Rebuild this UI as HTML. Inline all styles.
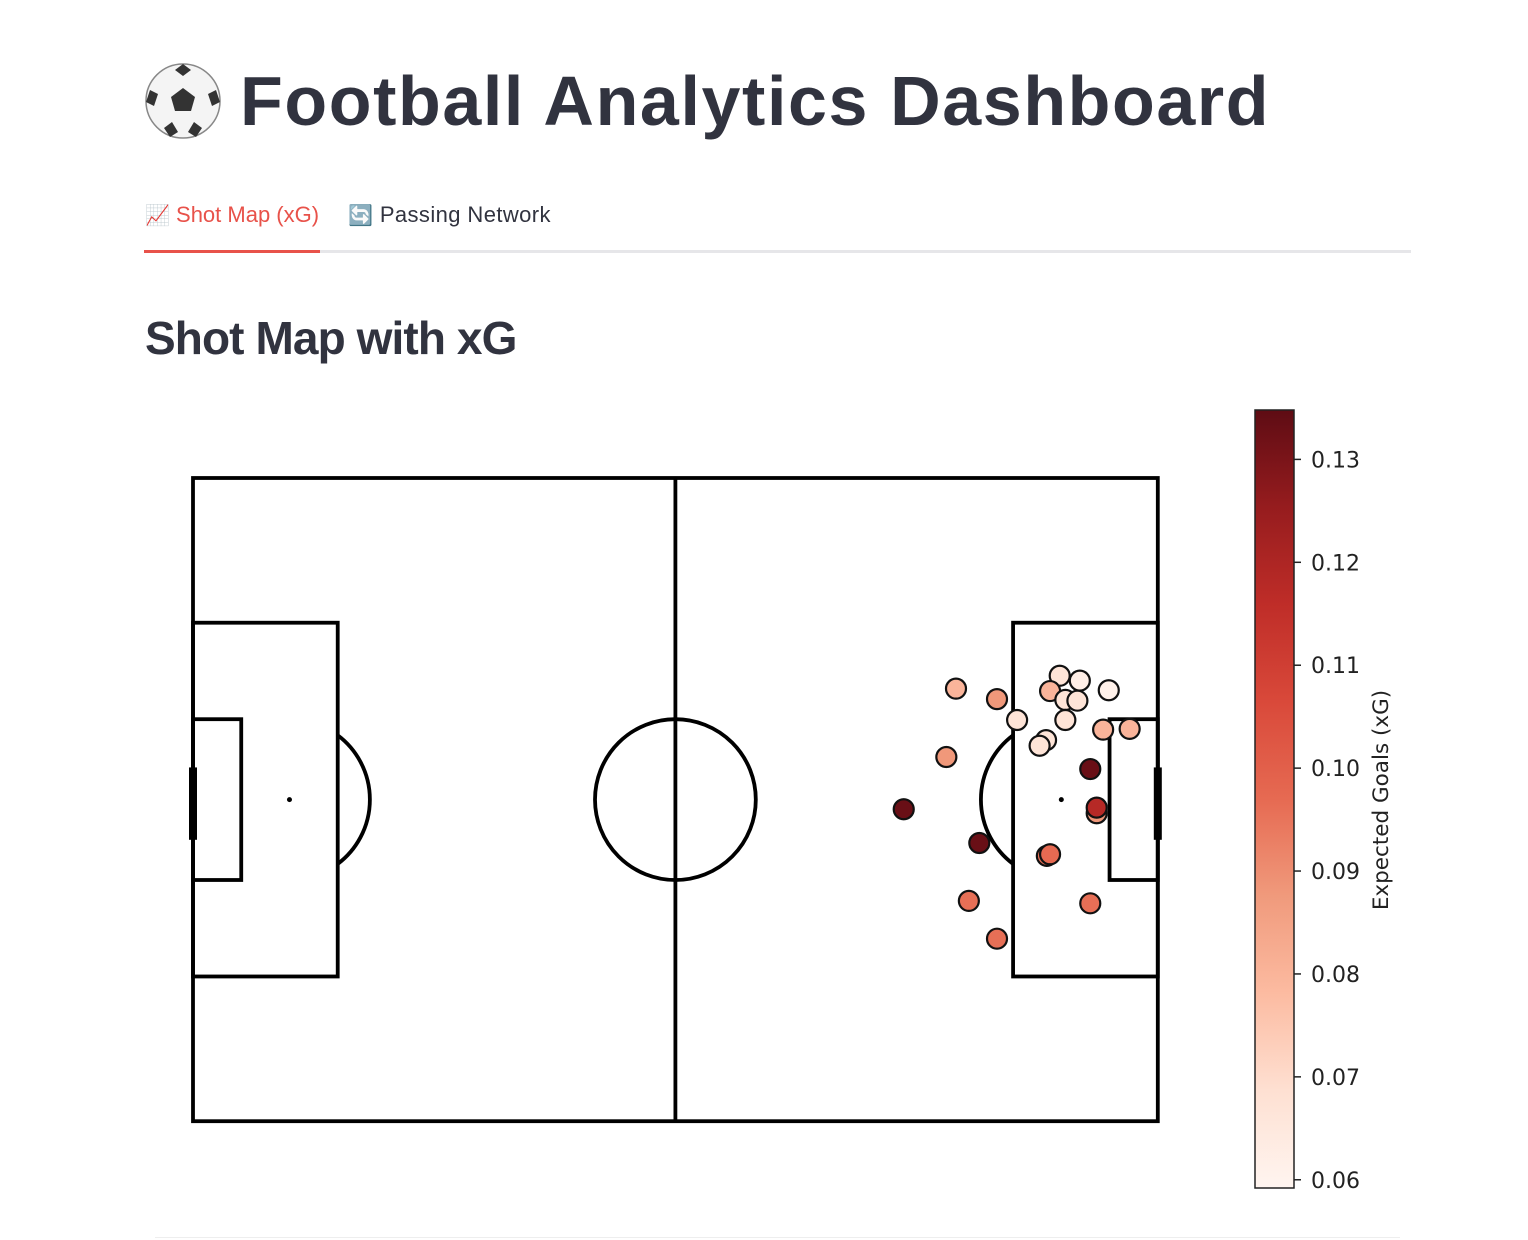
<!DOCTYPE html>
<html><head><meta charset="utf-8">
<style>
body{margin:0;background:#fff;width:1528px;height:1240px;overflow:hidden;font-family:"Liberation Sans",sans-serif;color:#31333f;position:relative}
.abs{position:absolute}
</style></head><body>
<svg class="abs" style="left:144px;top:62px" width="78" height="78" viewBox="0 0 78 78">
<circle cx="39" cy="39" r="37" fill="#f4f4f4" stroke="#888" stroke-width="1.5"/>
<polygon points="39,26 51,35 47,49 31,49 27,35" fill="#333"/>
<path d="M39 2 L47 8 L39 14 L31 8Z M72 28 L76 40 L68 44 L64 32Z M6 28 L14 32 L10 44 L2 40Z M20 66 L28 60 L34 70 L26 75Z M58 66 L50 60 L44 70 L52 75Z" fill="#333"/>
</svg>
<div class="abs" style="left:240px;top:61px;font-size:70px;font-weight:bold;letter-spacing:1.6px;line-height:80px;white-space:nowrap">Football Analytics Dashboard</div>
<div class="abs" style="left:145px;top:200px;font-size:22px;color:#e8524a;line-height:30px"><span style="font-size:20px">📈</span> Shot Map (xG)</div>
<div class="abs" style="left:348px;top:200px;font-size:22px;line-height:30px;letter-spacing:0.4px"><span style="font-size:20px">🔄</span> Passing Network</div>
<div class="abs" style="left:144px;top:250px;width:1267px;height:3px;background:#e6e6e9"></div>
<div class="abs" style="left:144px;top:250px;width:176px;height:3px;background:#e8524a"></div>
<div class="abs" style="left:145px;top:310px;font-size:46px;font-weight:bold;line-height:56px;letter-spacing:-0.9px">Shot Map with xG</div>
<div class="abs" style="left:155px;top:1237px;width:1245px;height:1px;background:#eee"></div>
<svg id="chart" class="abs" style="left:0;top:0" width="1528" height="1240">
<defs><linearGradient id="cg" x1="0" y1="1" x2="0" y2="0">
<stop offset="0" stop-color="#fff5f0"/><stop offset="0.125" stop-color="#fee0d2"/><stop offset="0.25" stop-color="#fcbba1"/><stop offset="0.375" stop-color="#f09a7c"/><stop offset="0.5" stop-color="#e66a52"/><stop offset="0.625" stop-color="#d9493a"/><stop offset="0.75" stop-color="#bf2d28"/><stop offset="0.875" stop-color="#961c1e"/><stop offset="1" stop-color="#5e0c14"/></linearGradient></defs>
</svg>
<script>
const shotX=[94.9,100.0,102.5,93.7,88.4,97.8,96.5,100.0,107.8,110.3,106.6,108.5,110.0,113.9,108.5,106.1,105.3,113.2,116.5,111.6,112.4,112.4,106.2,106.6,111.6];
const shotY=[26.2,27.5,30.1,34.7,41.2,45.4,52.6,57.3,24.6,25.2,26.5,27.6,27.7,26.4,30.1,32.6,33.3,31.3,31.2,36.2,41.7,41.0,47.0,46.8,52.9];
const shotXG=[0.080,0.088,0.067,0.088,0.133,0.133,0.096,0.096,0.067,0.062,0.080,0.067,0.067,0.061,0.067,0.067,0.067,0.080,0.080,0.133,0.088,0.118,0.096,0.097,0.096];
const cbTicks=[0.06,0.07,0.08,0.09,0.10,0.11,0.12,0.13];
const vmin=0.0592,vmax=0.1348;
const svg=document.getElementById('chart');
const NS='http://www.w3.org/2000/svg';
const ox=193,oy=478,k=8.04;
const sx=v=>ox+v*k, sy=v=>oy+v*k;
function mk(t,a,p){const e=document.createElementNS(NS,t);for(const q in a)e.setAttribute(q,a[q]);(p||svg).appendChild(e);return e;}
const L={stroke:'#000','stroke-width':3.8,fill:'none'};
const g=mk('g',{});


function rect(x1,y1,x2,y2){mk('rect',Object.assign({x:sx(x1),y:sy(y1),width:(x2-x1)*k,height:(y2-y1)*k},L),g);}
rect(0,0,120,80);rect(0,18,18,62);rect(102,18,120,62);rect(0,30,6,50);rect(114,30,120,50);
mk('line',Object.assign({x1:sx(60),y1:sy(0),x2:sx(60),y2:sy(80)},L),g);
mk('circle',Object.assign({cx:sx(60),cy:sy(40),r:10*k},L),g);
mk('circle',{cx:sx(12),cy:sy(40),r:2.5,fill:'#000'},g);
mk('circle',{cx:sx(108),cy:sy(40),r:2.5,fill:'#000'},g);
mk('circle',{cx:sx(60),cy:sy(40),r:1.5,fill:'#000'},g);
const a=Math.acos(6/10),dy=10*Math.sin(a);
mk('path',Object.assign({d:`M${sx(18)} ${sy(40-dy)} A${10*k} ${10*k} 0 0 1 ${sx(18)} ${sy(40+dy)}`},L),g);
mk('path',Object.assign({d:`M${sx(102)} ${sy(40-dy)} A${10*k} ${10*k} 0 0 0 ${sx(102)} ${sy(40+dy)}`},L),g);
mk('rect',{x:sx(0)-4,y:sy(36),width:8,height:9*k,fill:'#000'},g);
mk('rect',{x:sx(120)-4,y:sy(36),width:8,height:9*k,fill:'#000'},g);
const stops=[[255,245,240],[254,224,210],[252,187,161],[240,154,124],[230,106,82],[217,73,58],[191,45,40],[150,28,30],[94,12,20]];
function col(v){let t=Math.max(0,Math.min(1,(v-vmin)/(vmax-vmin)))*8;const i=Math.min(7,Math.floor(t)),f=t-i;const c=stops[i].map((c0,j)=>Math.round(c0+(stops[i+1][j]-c0)*f));return `rgb(${c})`;}
shotX.forEach((x,i)=>{const c=mk('circle',{cx:sx(x),cy:sy(shotY[i]),r:10,fill:col(shotXG[i]),stroke:'#111','stroke-width':2.2});

});
const cbx=1255,cbw=39,cbTop=410,cbBot=1188;
const cy=v=>cbBot-(v-vmin)/(vmax-vmin)*(cbBot-cbTop);
const cb=mk('rect',{x:cbx,y:cbTop,width:cbw,height:cbBot-cbTop,fill:'url(#cg)',stroke:'#222','stroke-width':1.5});


cbTicks.forEach(v=>{mk('line',{x1:cbx+cbw,x2:cbx+cbw+7,y1:cy(v),y2:cy(v),stroke:'#222','stroke-width':1.5});
const t=mk('text',{x:1311,y:cy(v)+8,'font-size':22,fill:'#222','font-family':'DejaVu Sans, sans-serif'});t.textContent=v.toFixed(2);

});
const lab=mk('text',{x:0,y:0,transform:'translate(1388,800) rotate(-90)','text-anchor':'middle','font-size':21.5,fill:'#222','font-family':'DejaVu Sans, sans-serif'});
lab.textContent='Expected Goals (xG)';


</script>
</body></html>
